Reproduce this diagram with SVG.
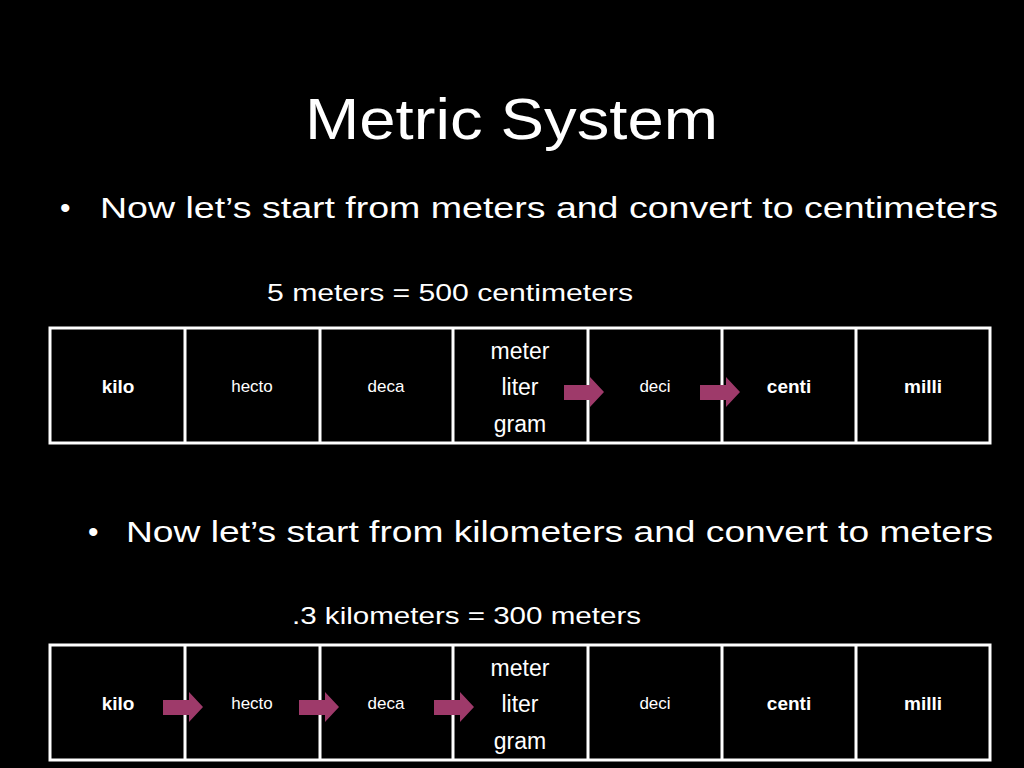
<svg xmlns="http://www.w3.org/2000/svg" width="1024" height="768" viewBox="0 0 1024 768">
<style>
text{font-family:"Liberation Sans","DejaVu Sans",sans-serif;fill:#fff}
.c{fill:none;stroke:#fff;stroke-width:3}
.s{font-size:17px}
.b{font-size:19px;font-weight:bold}
.m{font-size:23px}
.a{fill:#9e3a6a}
</style>
<rect width="1024" height="768" fill="#000"/>
<text x="305" y="139" font-size="58" textLength="413" lengthAdjust="spacingAndGlyphs">Metric System</text>
<text x="60" y="218" font-size="30">•</text>
<text x="100" y="218" font-size="30" textLength="898" lengthAdjust="spacingAndGlyphs">Now let’s start from meters and convert to centimeters</text>
<text x="267" y="301" font-size="24" textLength="366" lengthAdjust="spacingAndGlyphs">5 meters = 500 centimeters</text>
<text x="88" y="542" font-size="30">•</text>
<text x="126" y="542" font-size="30" textLength="867" lengthAdjust="spacingAndGlyphs">Now let’s start from kilometers and convert to meters</text>
<text x="292" y="624" font-size="24" textLength="349" lengthAdjust="spacingAndGlyphs">.3 kilometers = 300 meters</text>
<g id="table1">
<rect class="c" x="50" y="328" width="940" height="115"/>
<path class="c" d="M185 328V443M320 328V443M453 328V443M588 328V443M722 328V443M856 328V443"/>
<g text-anchor="middle">
<text class="b" x="118" y="393">kilo</text>
<text class="s" x="252" y="392">hecto</text>
<text class="s" x="386" y="392">deca</text>
<text class="m" x="520" y="359">meter</text>
<text class="m" x="520" y="395">liter</text>
<text class="m" x="520" y="432">gram</text>
<text class="s" x="655" y="392">deci</text>
<text class="b" x="789" y="393">centi</text>
<text class="b" x="923" y="393">milli</text>
</g>
</g>
<g id="table2">
<rect class="c" x="50" y="645" width="940" height="115"/>
<path class="c" d="M185 645V760M320 645V760M453 645V760M588 645V760M722 645V760M856 645V760"/>
<g text-anchor="middle">
<text class="b" x="118" y="710">kilo</text>
<text class="s" x="252" y="709">hecto</text>
<text class="s" x="386" y="709">deca</text>
<text class="m" x="520" y="676">meter</text>
<text class="m" x="520" y="712">liter</text>
<text class="m" x="520" y="749">gram</text>
<text class="s" x="655" y="709">deci</text>
<text class="b" x="789" y="710">centi</text>
<text class="b" x="923" y="710">milli</text>
</g>
</g>
<g id="connectors">
<polygon class="a" points="564,385 590,385 590,377 604,392 590,407 590,400 564,400"/>
<polygon class="a" points="700,385 726,385 726,377 740,392 726,407 726,400 700,400"/>
<polygon class="a" points="163,700 189,700 189,692 203,707 189,722 189,715 163,715"/>
<polygon class="a" points="299,700 325,700 325,692 339,707 325,722 325,715 299,715"/>
<polygon class="a" points="434,700 460,700 460,692 474,707 460,722 460,715 434,715"/>
</g>
</svg>
